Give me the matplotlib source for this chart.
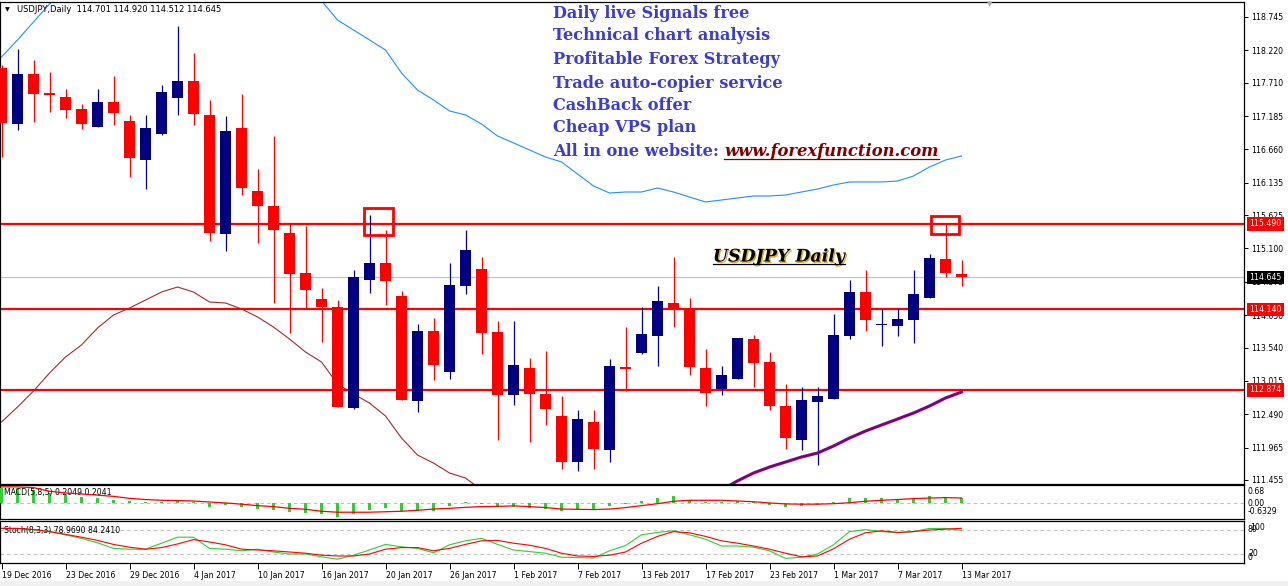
import numpy as np
import matplotlib
matplotlib.use("Agg")
import matplotlib.pyplot as plt
import matplotlib.patheffects as pe
from matplotlib.transforms import Affine2D, blended_transform_factory
from matplotlib.patches import Rectangle
from matplotlib.lines import Line2D

W, H = 1288, 586

# ---- data (USDJPY daily, 19 Dec 2016 - 13 Mar 2017) ----
dates = ["19 Dec 2016", "23 Dec 2016", "29 Dec 2016", "4 Jan 2017", "10 Jan 2017",
         "16 Jan 2017", "20 Jan 2017", "26 Jan 2017", "1 Feb 2017", "7 Feb 2017",
         "13 Feb 2017", "17 Feb 2017", "23 Feb 2017", "1 Mar 2017", "7 Mar 2017",
         "13 Mar 2017"]

opens = [117.942, 117.060, 117.847, 117.548, 117.485, 117.296, 117.013, 117.406, 117.107, 116.493,
         116.902, 117.469, 117.737, 117.202, 115.328, 116.997, 116.005, 115.769, 115.343, 114.714,
         114.304, 114.178, 112.588, 114.603, 114.871, 114.351, 112.698, 113.800, 113.154, 114.509,
         114.776, 113.784, 112.792, 113.217, 112.808, 112.462, 111.737, 112.367, 111.926, 113.233,
         113.454, 113.721, 114.241, 114.147, 113.217, 112.887, 113.044, 113.674, 113.312, 112.619,
         112.084, 112.682, 112.729, 113.721, 114.414, 113.887, 113.879, 113.973, 114.320, 114.934,
         114.701]
highs = [117.989, 118.241, 118.068, 117.879, 117.611, 117.375, 117.611, 117.816, 117.202, 117.202,
         117.674, 118.603, 118.178, 117.438, 117.186, 117.532, 116.351, 116.871, 115.485, 115.454,
         114.477, 114.288, 114.761, 115.627, 115.391, 114.430, 113.910, 114.005, 114.871, 115.391,
         114.965, 113.958, 113.958, 113.375, 113.485, 112.776, 112.556, 112.556, 113.359, 113.863,
         114.178, 114.509, 114.965, 114.320, 113.517, 113.249, 113.690, 113.737, 113.469, 112.965,
         112.918, 112.918, 114.068, 114.603, 114.761, 114.147, 114.162, 114.761, 115.013, 115.485,
         114.920]
lows = [116.540, 116.965, 117.091, 117.249, 117.154, 116.981, 117.013, 117.044, 116.225, 116.036,
        116.887, 117.202, 117.044, 115.217, 115.060, 115.942, 115.186, 114.241, 113.769, 114.147,
        113.627, 112.603, 112.572, 114.399, 114.210, 112.714, 112.525, 113.028, 113.044, 114.383,
        113.438, 112.084, 112.635, 112.052, 112.320, 111.627, 111.595, 111.627, 111.737, 112.855,
        113.438, 113.249, 113.863, 113.107, 112.619, 112.792, 113.044, 112.918, 112.556, 111.942,
        111.926, 111.690, 112.729, 113.674, 113.800, 113.564, 113.721, 113.611, 114.320, 114.651,
        114.512]
closes = [117.076, 117.847, 117.532, 117.517, 117.280, 117.060, 117.406, 117.233, 116.525, 116.997,
          117.564, 117.737, 117.217, 115.343, 116.950, 116.052, 115.769, 115.391, 114.698, 114.446,
          114.178, 112.603, 114.651, 114.871, 114.588, 112.714, 113.800, 113.265, 114.525, 115.076,
          113.769, 112.792, 113.265, 112.808, 112.572, 111.737, 112.414, 111.942, 113.249, 113.202,
          113.753, 114.273, 114.162, 113.233, 112.824, 113.107, 113.690, 113.296, 112.619, 112.115,
          112.714, 112.776, 113.737, 114.414, 113.973, 113.902, 113.989, 114.383, 114.950, 114.714,
          114.645]

# blue upper envelope (one value per bar, bars 4-19 run off the top)
upper_band = [118.115, 118.383, 118.666, 118.950, 119.20, 119.40, 119.55, 119.65, 119.70, 119.70,
              119.65, 119.60, 119.55, 119.50, 119.45, 119.40, 119.35, 119.30, 119.25, 119.25,
              119.00, 118.698, 118.540, 118.383, 118.225, 117.863, 117.595, 117.438, 117.265, 117.202,
              117.060, 116.871, 116.761, 116.651, 116.540, 116.462, 116.273, 116.084, 115.973, 115.989,
              115.989, 116.052, 115.989, 115.910, 115.832, 115.863, 115.895, 115.926, 115.926, 115.942,
              115.989, 116.036, 116.099, 116.147, 116.147, 116.147, 116.162, 116.241, 116.383, 116.493,
              116.556]
# dark red lower envelope, bars 0-31 (then below the chart)
lower_band = [112.367, 112.603, 112.855, 113.139, 113.391, 113.580, 113.847, 114.052, 114.162, 114.288,
              114.414, 114.493, 114.414, 114.257, 114.241, 114.147, 114.021, 113.863, 113.674, 113.469,
              113.312, 112.965, 112.808, 112.666, 112.462, 112.115, 111.847, 111.721, 111.564, 111.485,
              111.30, 111.15]
# purple slow moving average, bars 44-60
ma_start = 44
ma_slow = [111.20, 111.30, 111.44, 111.564, 111.658, 111.737, 111.816, 111.879, 111.989, 112.115,
           112.225, 112.320, 112.414, 112.509, 112.619, 112.745, 112.839]

price_ticks = [118.745, 118.220, 117.710, 117.185, 116.660, 116.135, 115.625, 115.100, 114.575,
               114.050, 113.540, 113.015, 112.490, 111.965, 111.455]
level_lines = [115.490, 114.140, 112.874]
last_price = 114.645
# (first bar, last bar, low price, high price) of the two marked highs
highlight_boxes = [(22.66, 24.47, 115.31, 115.74), (58.09, 59.84, 115.33, 115.61)]

macd_hist = [0.62, 0.60, 0.55, 0.41, 0.34, 0.25, 0.20, 0.14, 0.07, 0.03,
             0.05, 0.14, 0.05, -0.18, -0.10, -0.18, -0.23, -0.27, -0.37, -0.41,
             -0.45, -0.59, -0.45, -0.27, -0.20, -0.31, -0.31, -0.31, -0.14, 0.05,
             -0.04, -0.16, -0.16, -0.22, -0.25, -0.34, -0.27, -0.25, -0.14, -0.04,
             0.10, 0.20, 0.27, 0.11, 0.05, 0.03, 0.08, 0.03, -0.07, -0.18,
             -0.14, -0.07, 0.05, 0.20, 0.20, 0.20, 0.14, 0.18, 0.30, 0.25,
             0.2049]
macd_signal = [0.66, 0.66, 0.63, 0.48, 0.41, 0.37, 0.32, 0.27, 0.19, 0.14,
               0.11, 0.10, 0.08, 0.04, 0.00, -0.05, -0.11, -0.15, -0.22, -0.26,
               -0.34, -0.38, -0.38, -0.38, -0.36, -0.34, -0.30, -0.25, -0.22, -0.18,
               -0.15, -0.14, -0.12, -0.15, -0.19, -0.25, -0.26, -0.27, -0.25, -0.19,
               -0.11, -0.03, 0.07, 0.11, 0.11, 0.11, 0.08, 0.05, 0.00, -0.04,
               -0.05, -0.05, -0.03, 0.01, 0.07, 0.11, 0.14, 0.18, 0.20, 0.22,
               0.2041]
stoch_k = [84, 84, 81, 76, 68, 59, 48, 34, 32, 32,
           47, 62, 62, 34, 32, 28, 32, 25, 20, 20,
           13, 7, 17, 30, 44, 38, 34, 23, 43, 53,
           59, 44, 30, 26, 22, 12, 11, 10, 28, 41,
           68, 74, 78, 68, 57, 40, 40, 37, 28, 9,
           12, 20, 43, 76, 81, 76, 73, 76, 84, 84,
           78.969]
stoch_d = [84, 84, 81, 76, 69, 62, 54, 44, 37, 32,
           36, 45, 56, 50, 43, 32, 30, 28, 25, 22,
           17, 15, 15, 20, 32, 36, 36, 28, 34, 44,
           53, 54, 47, 42, 34, 22, 15, 14, 17, 25,
           47, 64, 76, 73, 64, 53, 47, 40, 32, 22,
           13, 15, 33, 57, 73, 78, 74, 76, 80, 82,
           84.241]

promo_lines = ["Daily live Signals free", "Technical chart analysis", "Profitable Forex Strategy",
               "Trade auto-copier service", "CashBack offer", "Cheap VPS plan", "All in one website: "]
website = "www.forexfunction.com"

NAVY = "#000080"
RED = "#FF0000"
GREEN = "#32CD32"

plt.rcParams["font.family"] = ["DejaVu Sans"]

fig = plt.figure(figsize=(W / 100, H / 100), dpi=100)
fig.patch.set_facecolor("white")
# pixel coordinates, origin top-left
pix = Affine2D().scale(1 / W, -1 / H).translate(0, 1) + fig.transFigure


def px_axes(top, bottom):
    return fig.add_axes([0, 1 - bottom / H, 1244 / W, (bottom - top) / H])


ax = px_axes(2, 484)
ax_macd = px_axes(485, 519)
ax_st = px_axes(521, 563)

idx = np.arange(len(opens))
xlim = (-0.094, -0.094 + 1244 / 16)
for a in (ax, ax_macd, ax_st):
    a.set_xlim(*xlim)
    for s in a.spines.values():
        s.set_linewidth(0.9)
        s.set_color("black")

# ---- main price panel ----
ax.set_ylim(111.391, 118.981)
o = np.array(opens)
c = np.array(closes)
cols = np.where(c >= o, NAVY, RED)
ax.vlines(idx, lows, highs, colors=cols, linewidth=0.9, zorder=3)
body_h = np.maximum(np.abs(c - o), 1.3 / 63.5)
ax.bar(idx, body_h, bottom=np.minimum(o, c), width=0.69, color=cols, linewidth=0, zorder=4)

ax.plot(idx, upper_band, color="#1E90FF", lw=0.8, zorder=2)
ax.plot(idx[:len(lower_band)], lower_band, color="#A52A2A", lw=0.8, zorder=2)
ax.plot(np.arange(ma_start, ma_start + len(ma_slow)), ma_slow, color="#800080", lw=2.2, zorder=5)

for v in level_lines:
    ax.axhline(v, color=RED, lw=1.6, zorder=2)
ax.axhline(last_price, color="#C0C0C0", lw=0.8, zorder=1)

for x0, x1, y0, y1 in highlight_boxes:
    ax.add_patch(Rectangle((x0, y0), x1 - x0, y1 - y0, fill=False, edgecolor=RED, lw=2.0, zorder=6))

ax.set_xticks([])
ax.yaxis.tick_right()
ax.set_yticks(price_ticks)
ax.set_yticklabels([f"{v:.3f}" for v in price_ticks])
ax.tick_params(axis="y", length=3, width=0.7, pad=2, labelsize=5.6)

btrans = blended_transform_factory(ax.transAxes, ax.transData)
for v, fc in [(v, RED) for v in level_lines] + [(last_price, "black")]:
    ax.text(1.0045, v, f"{v:.3f}", transform=btrans, ha="left", va="center", fontsize=5.6,
            color="white", clip_on=False, zorder=8,
            bbox=dict(boxstyle="square,pad=0.3", fc=fc, ec="none"))

# header
ax.text(5, 10, "\u25bc", transform=pix, fontsize=4.5, va="center", ha="left")
ax.text(17, 10, "USDJPY,Daily  114.701 114.920 114.512 114.645", transform=pix,
        fontsize=6, va="center", ha="left")
ax.text(990, 4, "\u25bc", transform=pix, fontsize=5, va="center", ha="center", color="#A8A8A8")

# promo text
promo_y = [13, 36, 59, 83, 106, 128, 152]
texts = []
for s, y in zip(promo_lines, promo_y):
    texts.append(ax.text(553, y, s, transform=pix, family="DejaVu Serif", fontweight="bold",
                         fontsize=11.6, color="#3C3CD2", va="center", ha="left", zorder=7))

title = ax.text(779, 257, "USDJPY Daily", transform=pix, family="DejaVu Serif", fontweight="bold",
                style="italic", fontsize=12.5, color="black", va="center", ha="center", zorder=7,
                path_effects=[pe.SimplePatchShadow(offset=(1, -1), shadow_rgbFace="#D8A830", alpha=1),
                              pe.Normal()])

# ---- MACD panel ----
ax_macd.set_ylim(-0.658, 0.737)
ax_macd.bar(idx, macd_hist, width=0.14, color=GREEN, linewidth=0, zorder=3)
ax_macd.plot(idx, macd_signal, color=RED, lw=0.9, zorder=4)
ax_macd.axhline(0, color="#C0C0C0", lw=0.8, linestyle=(0, (3, 3)), zorder=1)
ax_macd.set_xticks([])
ax_macd.set_yticks([])
ax_macd.text(4, 492, "MACD(5,8,5) 0.2049 0.2041", transform=pix, fontsize=5.6, va="center")
for s, y in [("0.68", 492), ("0.00", 503), ("-0.6329", 511)]:
    ax_macd.text(1248, y, s, transform=pix, fontsize=5.6, va="center", clip_on=False)

# ---- Stochastic panel ----
ax_st.set_ylim(-2.5, 102.5)
ax_st.plot(idx, stoch_k, color=GREEN, lw=0.8, zorder=3)
ax_st.plot(idx, stoch_d, color=RED, lw=0.8, zorder=4)
for lv in (20, 80):
    ax_st.axhline(lv, color="#C0C0C0", lw=0.8, linestyle=(0, (3, 3)), zorder=1)
ax_st.set_yticks([])
ax_st.set_xticks(idx[::4])
ax_st.set_xticklabels(dates, ha="left", fontsize=5.6)
ax_st.tick_params(axis="x", length=4, width=0.7, pad=1.5)
ax_st.text(4, 530, "Stoch(8,3,3) 78.9690 84.2410", transform=pix, fontsize=5.6, va="center")
for s, x, y in [("100", 1250, 527), ("80", 1248, 530), ("20", 1248, 554), ("0", 1248, 557)]:
    ax_st.text(x, y, s, transform=pix, fontsize=5.6, va="center", clip_on=False)

fig.patches.append(Rectangle((0, 581), W, 5, transform=pix, facecolor="#F0F0F0",
                             edgecolor="none", zorder=0))

# website link after the last promo line, plus underlines
fig.canvas.draw()
r = fig.canvas.get_renderer()
bb = texts[-1].get_window_extent(r)
link = fig.text(bb.x1 / W, (bb.y0 + bb.y1) / 2 / H, website, family="DejaVu Serif",
                fontweight="bold", style="italic", fontsize=11.8, color="#800000",
                va="center", ha="left", zorder=7)
fig.canvas.draw()
for t, col in [(link, "#800000"), (title, "black")]:
    b = t.get_window_extent(r)
    fig.add_artist(Line2D([b.x0 / W, b.x1 / W], [(b.y0 + 2) / H] * 2, transform=fig.transFigure,
                          color=col, lw=0.9))

fig.savefig("out.png", dpi=100)
